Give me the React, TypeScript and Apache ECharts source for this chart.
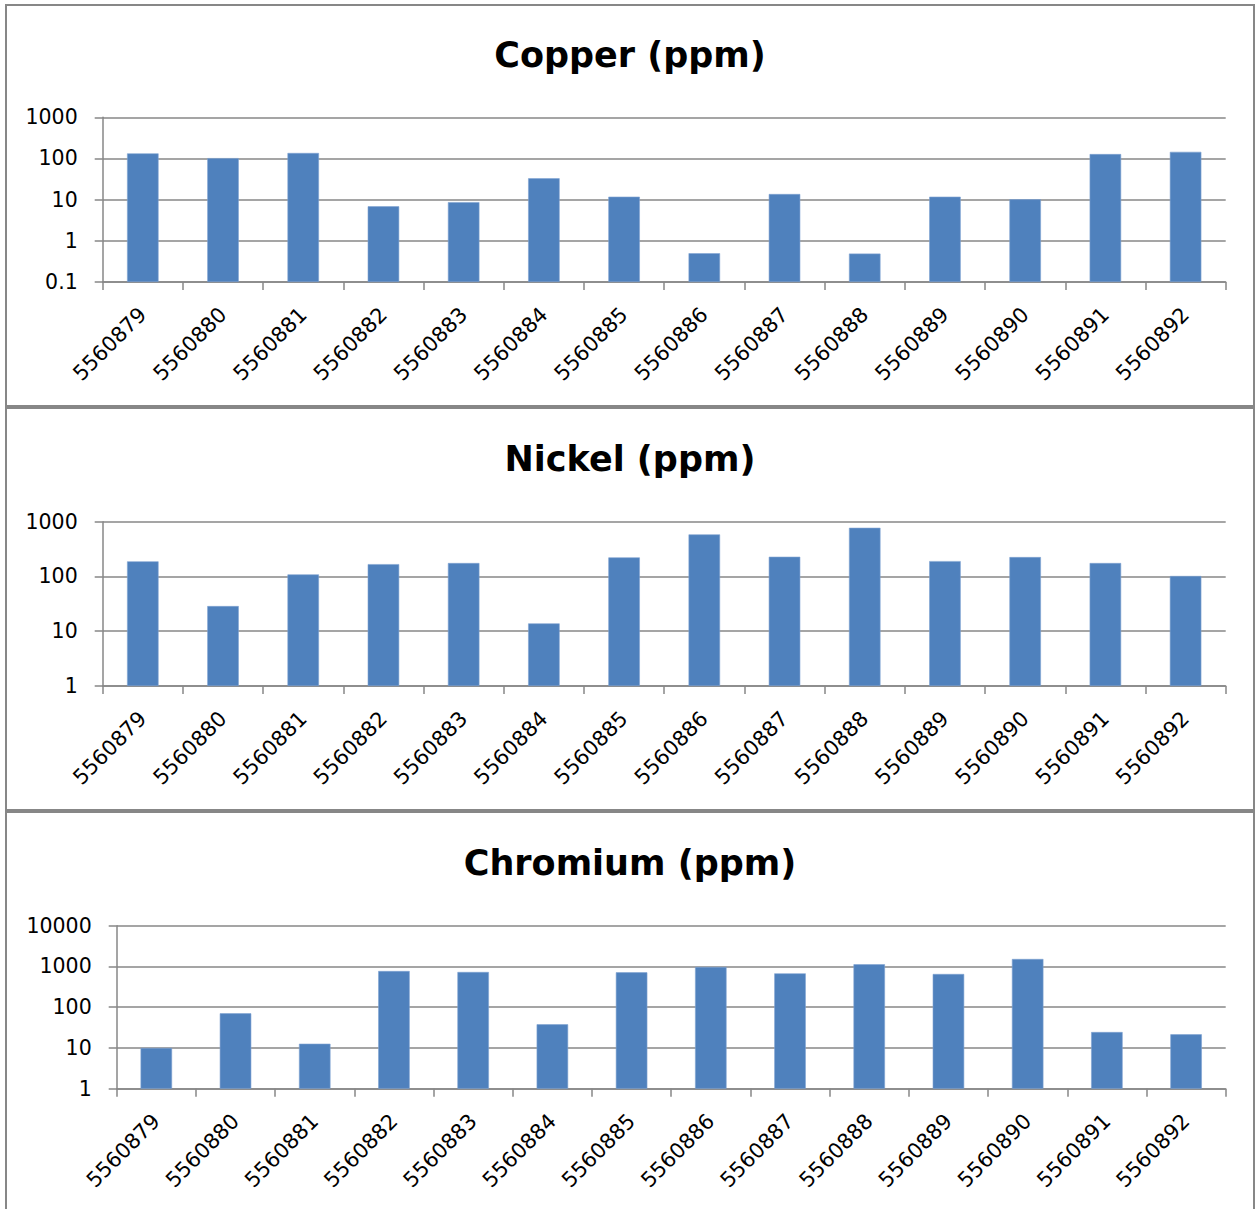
import React, { useEffect, useRef } from "react";
import * as echarts from "echarts";

const categories = [
  "5560879", "5560880", "5560881", "5560882", "5560883", "5560884", "5560885",
  "5560886", "5560887", "5560888", "5560889", "5560890", "5560891", "5560892",
];
const copperValues = [133, 102, 136, 6.9, 8.7, 33, 11.8, 0.5, 13.7, 0.49, 11.8, 10.2, 128, 145];
const nickelValues = [189, 28.8, 109, 168, 176, 13.9, 223, 586, 229, 774, 191, 226, 176, 102];
const chromiumValues = [10, 70.8, 12.7, 773, 731, 38, 718, 969, 677, 1130, 653, 1524, 24.6, 21.6];
const copperTicks = [0.1, 1, 10, 100, 1000];
const nickelTicks = [1, 10, 100, 1000];
const chromiumTicks = [1, 10, 100, 1000, 10000];
const titles = ["Copper (ppm)", "Nickel (ppm)", "Chromium (ppm)"];

const GRAY = "#878787";
const BAR = "#4F81BD";
const FONT = "DejaVu Sans";

export default function App() {
  const ref = useRef<HTMLDivElement>(null);
  useEffect(() => {
    if (!ref.current) return;
    const chart = echarts.init(ref.current, null, { renderer: "svg" });
    const panels = [
      { values: copperValues, ticks: copperTicks, top: 117.3, bottom: 282, left: 102.7, borderY: 5, borderH: 401, titleY: 55 },
      { values: nickelValues, ticks: nickelTicks, top: 521.7, bottom: 686, left: 102.7, borderY: 408, borderH: 402, titleY: 459 },
      { values: chromiumValues, ticks: chromiumTicks, top: 925.7, bottom: 1088.7, left: 116.7, borderY: 812, borderH: 402, titleY: 863 },
    ];
    const fmt = (v: number) => String(Number(Number(v).toPrecision(6)));
    const option: any = {
      animation: false,
      backgroundColor: "#ffffff",
      grid: panels.map((p) => ({
        left: p.left,
        width: 1225.7 - p.left,
        top: p.top,
        height: p.bottom - p.top,
      })),
      xAxis: panels.map((p, i) => ({
        type: "category",
        gridIndex: i,
        data: categories,
        axisLine: { show: true, lineStyle: { color: GRAY, width: 1.5 } },
        axisTick: { show: true, length: 8, alignWithLabel: false, lineStyle: { color: GRAY, width: 1.5 } },
        axisLabel: { rotate: 45, margin: 29, interval: 0, fontSize: 21, color: "#000", fontFamily: FONT },
        splitLine: { show: false },
      })),
      yAxis: panels.map((p, i) => ({
        type: "log",
        logBase: 10,
        gridIndex: i,
        min: p.ticks[0],
        max: p.ticks[p.ticks.length - 1],
        startValue: p.ticks[0],
        axisLine: { show: true, lineStyle: { color: GRAY, width: 1.5 } },
        axisTick: { show: true, length: 8, lineStyle: { color: GRAY, width: 1.5 } },
        splitLine: { show: true, lineStyle: { color: GRAY, width: 1.5 } },
        axisLabel: { fontSize: 20.5, margin: 25, color: "#000", fontFamily: FONT, formatter: fmt },
      })),
      series: panels.map((p, i) => ({
        type: "bar",
        xAxisIndex: i,
        yAxisIndex: i,
        data: p.values,
        barWidth: 31.5,
        itemStyle: { color: BAR, borderColor: "#7FA3D1", borderWidth: 0.6 },
      })),
      graphic: [
        ...panels.map((p) => ({
          type: "rect",
          shape: { x: 6, y: p.borderY, width: 1248, height: p.borderH },
          style: { fill: "none", stroke: GRAY, lineWidth: 2 },
          silent: true,
        })),
        ...panels.map((p, i) => ({
          type: "text",
          x: 630,
          y: p.titleY,
          style: {
            text: titles[i],
            fontSize: 35,
            fontWeight: "bold",
            fontFamily: "DejaVu Sans",
            fill: "#000",
            align: "center",
            verticalAlign: "middle",
          },
          silent: true,
        })),
      ],
    };
    chart.setOption(option);
    return () => chart.dispose();
  }, []);
  return (
    <div
      ref={ref}
      style={{ position: "absolute", left: 0, top: 0, width: 1257, height: 1209 }}
    />
  );
}
